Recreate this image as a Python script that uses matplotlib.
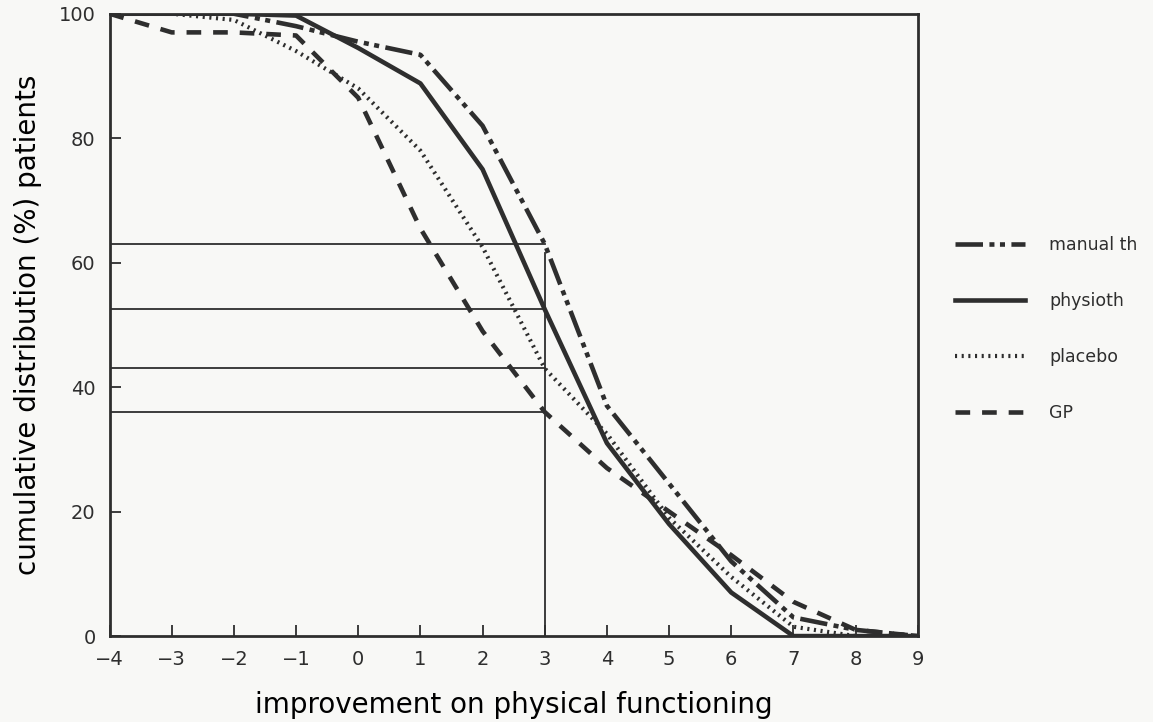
import matplotlib

matplotlib.use("Agg")
import matplotlib.pyplot as plt

# improvement score (x) and cumulative % of patients per treatment group
improvement = [-4, -3, -2, -1, 0, 1, 2, 3, 4, 5, 6, 7, 8, 9]
manual_th = [100, 100, 100, 98, 95.5, 93.4, 82, 63, 37, 24.5, 12, 3, 1, 0]
physioth = [100, 100, 100, 99.7, 94.5, 88.8, 75, 52.5, 31, 18, 7, 0, 0, 0]
placebo = [100, 100, 99, 94, 88, 78, 62.5, 43, 32.5, 19, 9.5, 1.5, 0, 0]
gp = [100, 97, 97, 96.5, 86.5, 65.5, 49, 36, 27, 20, 13, 5.5, 1, 0]

ref_x = 3
ref_levels = [63, 52.5, 43, 36]

INK = "#2e2e2e"


def main() -> None:
    plt.rcParams.update(
        {
            "font.family": "DejaVu Sans",
            "text.color": INK,
            "axes.edgecolor": INK,
            "xtick.color": INK,
            "ytick.color": INK,
        }
    )

    fig = plt.figure(figsize=(11.53, 7.22), dpi=100, facecolor="#f8f8f6")
    ax = fig.add_axes([0.095, 0.119, 0.701, 0.862])
    ax.set_facecolor("#f8f8f6")

    # reference lines at x = 3
    for lvl in ref_levels:
        ax.plot([improvement[0], ref_x], [lvl, lvl], color=INK, lw=1.3, zorder=2)
    ax.plot([ref_x, ref_x], [0, 61.5], color=INK, lw=1.3, zorder=2)

    ax.plot(improvement, manual_th, color=INK, lw=3.3,
            linestyle=(0, (6, 1.4, 1.1, 1.2, 1.1, 1.4)), label="manual th", zorder=3)
    ax.plot(improvement, physioth, color=INK, lw=3.3, linestyle="-",
            label="physioth", zorder=3)
    ax.plot(improvement, placebo, color=INK, lw=3.0,
            linestyle=(0, (0.5, 1.1)), label="placebo", zorder=3)
    ax.plot(improvement, gp, color=INK, lw=3.3,
            linestyle=(0, (3.2, 2.6)), label="GP", zorder=3)

    ax.set_xlim(-4, 9)
    ax.set_ylim(0, 100)
    ax.set_xticks(improvement)
    ax.set_xticklabels([str(v).replace("-", "\u2212") for v in improvement])
    ax.set_yticks([0, 20, 40, 60, 80, 100])
    ax.tick_params(direction="in", length=8, width=1.3, labelsize=14, pad=10)
    for side in ax.spines.values():
        side.set_linewidth(2)

    ax.set_xlabel("improvement on physical functioning", fontsize=20, labelpad=16)
    ax.set_ylabel("cumulative distribution (%) patients", fontsize=20, labelpad=12)

    fig.legend(
        loc="upper left",
        bbox_to_anchor=(0.815, 0.695),
        frameon=False,
        fontsize=12.5,
        handlelength=4.0,
        handletextpad=1.4,
        labelspacing=2.2,
    )

    fig.savefig("out.png", dpi=100, facecolor=fig.get_facecolor())
    plt.close(fig)


if __name__ == "__main__":
    main()
